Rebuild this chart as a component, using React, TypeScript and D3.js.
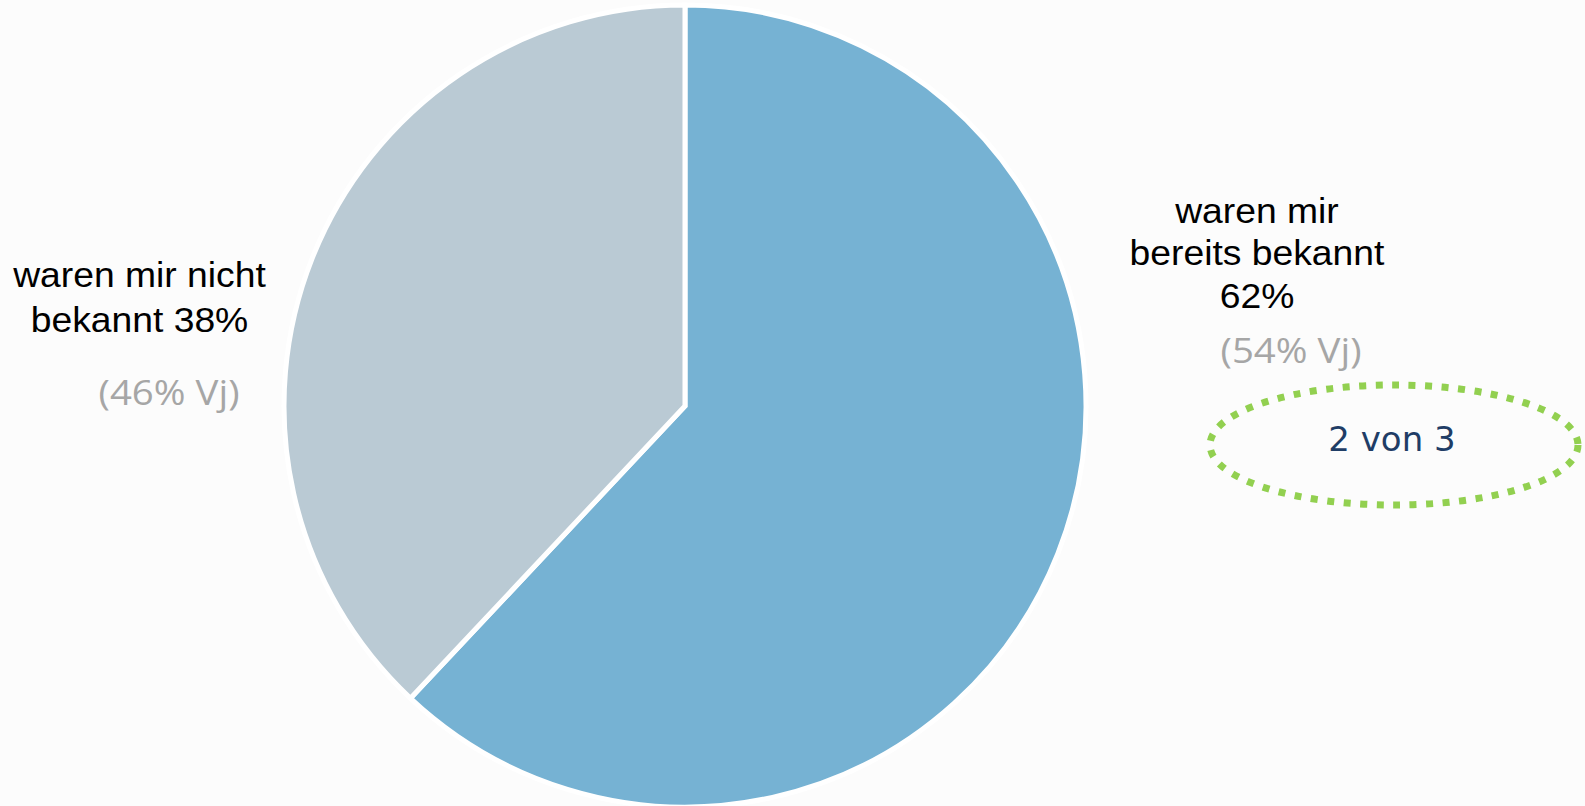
import React from "react";
import * as d3 from "d3";

const categories = ["waren mir bereits bekannt", "waren mir nicht bekannt"];
const values = [62, 38];
const previousYear = [54, 46];
const colors = ["#76b2d3", "#bacad4"];
const rightLabelLines = ["waren mir", "bereits bekannt", "62%"];
const leftLabelLines = ["waren mir nicht", "bekannt 38%"];
const badgeText = "2 von 3";

const W = 1585;
const H = 806;

export default function App() {
  const cx = 685;
  const cy = 406;
  const r = 401;
  const pie = d3.pie<number>().sort(null).startAngle(0).endAngle(2 * Math.PI);
  const arcs = pie(values);
  const arcGen = d3.arc<d3.PieArcDatum<number>>().innerRadius(0).outerRadius(r);

  const labelFont = "'Liberation Sans', Arial, sans-serif";
  const grayFont = "'Open Sans', 'Noto Sans', sans-serif";
  const sx = 1.065;
  const gsx = 1.13;

  return (
    <svg
      width={W}
      height={H}
      style={{ position: "absolute", left: 0, top: 0, background: "#fcfcfc" }}
    >
      <rect x={0} y={0} width={W} height={H} fill="#fcfcfc" />
      <g transform={`translate(${cx},${cy})`}>
        {arcs.map((a, i) => (
          <path
            key={categories[i]}
            d={arcGen(a) || ""}
            fill={colors[i]}
            stroke="#ffffff"
            strokeWidth={5}
            strokeLinejoin="miter"
          />
        ))}
      </g>

      {/* right label */}
      <g transform={`translate(1257,0) scale(${sx},1)`}>
        <text fontFamily={labelFont} fontSize={35} fill="#000" textAnchor="middle">
          {rightLabelLines.map((l, i) => (
            <tspan key={i} x={0} y={223 + i * 42.5}>
              {l}
            </tspan>
          ))}
        </text>
      </g>
      <g transform={`translate(1291,0) scale(${gsx},1)`}>
        <text x={0} y={363} fontFamily={grayFont} fontSize={34} fill="#a6a6a6" textAnchor="middle">
          {`(${previousYear[0]}% Vj)`}
        </text>
      </g>

      {/* left label */}
      <g transform={`translate(139.5,0) scale(${sx},1)`}>
        <text fontFamily={labelFont} fontSize={35} fill="#000" textAnchor="middle">
          {leftLabelLines.map((l, i) => (
            <tspan key={i} x={0} y={287 + i * 45}>
              {l}
            </tspan>
          ))}
        </text>
      </g>
      <g transform={`translate(169,0) scale(${gsx},1)`}>
        <text x={0} y={405} fontFamily={grayFont} fontSize={34} fill="#a6a6a6" textAnchor="middle">
          {`(${previousYear[1]}% Vj)`}
        </text>
      </g>

      {/* badge */}
      <ellipse
        cx={1394}
        cy={445}
        rx={184}
        ry={60}
        fill="none"
        stroke="#92d050"
        strokeWidth={7}
        strokeDasharray="7 9.5"
      />
      <text
        x={1392}
        y={451}
        fontFamily="'DejaVu Sans', sans-serif"
        fontSize={34}
        fill="#1f3d66"
        textAnchor="middle"
      >
        {badgeText}
      </text>
    </svg>
  );
}
